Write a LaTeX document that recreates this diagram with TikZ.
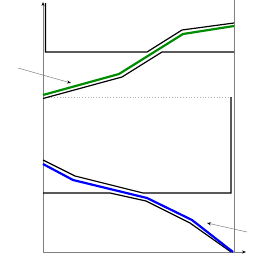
\documentclass[tikz,border=0pt]{standalone}
\usepackage{xcolor}
\usepackage{tikz}
\usetikzlibrary{arrows.meta}

\begin{document}
\begin{tikzpicture}[
  x=1pt, y=-1pt, >={Stealth[length=4pt,width=3pt,black]},
  axis/.style={draw=gray, line width=0.8pt},
  bound/.style={draw=black, line width=1.2pt, line join=miter},
  curve/.style={line width=2.2pt},
  note/.style={draw=gray, line width=0.5pt, ->},
]
\useasboundingbox (0,0) rectangle (253,271);
% axes
\coordinate (o) at (43,252);
\coordinate (ytop) at (43,2);
\coordinate (xend) at (246,252);
\draw[axis, ->] (o) -- (ytop);
\draw[axis, ->] (o) -- (xend);
\draw[axis] (234.5,0) -- (234.5,252);
\draw[draw=gray!60, line width=0.8pt, dotted] (43,97) -- (233,97);
% upper band
\draw[bound] (45.5,3) -- (45.5,52) -- (147,52) -- (182,30) -- (234,23);
\draw[bound] (43,98.5) -- (122,77) -- (162,52) -- (234,52);
\draw[curve, green!55!black] (43,95) -- (119,74) -- (183,34) -- (234,26);
% lower band
\draw[bound] (43,160) -- (75,176) -- (143,193) -- (231,193) -- (231,97);
\draw[bound] (43,193) -- (110,193) -- (146,201) -- (190,223) -- (231,252);
\draw[curve, blue] (43,164) -- (73,180) -- (147,198) -- (192,220) -- (233,252);
% pointers
\coordinate (gtail) at (18,68);
\coordinate (ghead) at (71,83);
\coordinate (btail) at (247,232);
\coordinate (bhead) at (207,223);
\draw[note] (gtail) -- (ghead);
\draw[note] (btail) -- (bhead);
\end{tikzpicture}
\end{document}
